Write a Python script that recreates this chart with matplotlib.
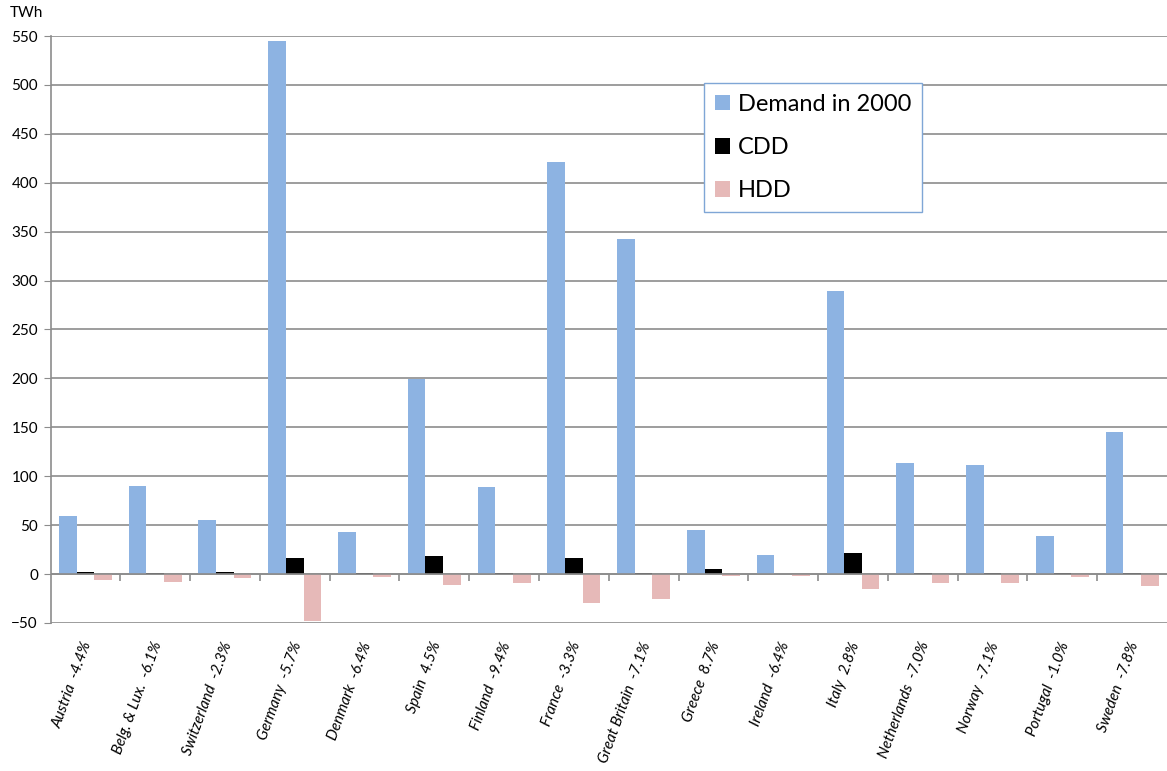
import numpy as np
import matplotlib
matplotlib.use("Agg")
import matplotlib.pyplot as plt
import matplotlib.transforms as mtransforms

plt.rcParams['font.family'] = ['Lato', 'DejaVu Sans']

# demand and degree-day effects per country (TWh)
countries = ["Austria  -4.4%", "Belg. & Lux.  -6.1%", "Switzerland  -2.3%", "Germany  -5.7%",
             "Denmark  -6.4%", "Spain  4.5%", "Finland  -9.4%", "France  -3.3%",
             "Great Britain  -7.1%", "Greece  8.7%", "Ireland  -6.4%", "Italy  2.8%",
             "Netherlands  -7.0%", "Norway  -7.1%", "Portugal  -1.0%", "Sweden  -7.8%"]
demand = [59, 90, 55, 545, 43, 199, 89, 421, 342, 45, 20, 289, 114, 112, 39, 145]
cdd = [2, 1, 2, 16, 1, 18.5, 1, 16, 1, 5, 0, 22, 1, 1, 1, 1]
hdd = [-6, -8, -4, -48, -3, -11, -9, -30, -25, -2, -2, -15, -9, -9, -3, -12]

blue = "#8DB3E2"
pink = "#E6B9B8"
grid = "#8C8C8C"

fig = plt.figure(figsize=(11.67, 7.71), dpi=100)
ax = fig.add_axes([50.5 / 1167, 1 - 623 / 771, 1 - 50.5 / 1167, (623 - 36) / 771])

x = np.arange(len(countries))
w = 0.253
ax.bar(x - w, demand, w, color=blue, label="Demand in 2000", zorder=3)
ax.bar(x, cdd, w, color="black", label="CDD", zorder=3)
ax.bar(x + w, hdd, w, color=pink, label="HDD", zorder=3)

ax.set_xlim(-0.5, len(countries) - 0.5)
ax.set_ylim(-50, 550)
ax.set_yticks(np.arange(-50, 551, 50))
ax.yaxis.grid(True, color=grid, linewidth=1.2, zorder=0)
ax.tick_params(axis="y", length=5, color=grid, labelsize=11, pad=4)
ax.set_xticks([])
for s in ["top", "right", "bottom"]:
    ax.spines[s].set_visible(False)
ax.spines["left"].set_color(grid)
ax.spines["left"].set_linewidth(1.2)

# category axis crossing at zero, with tick marks between groups
ax.axhline(0, color=grid, linewidth=1.2, zorder=4)
sec = ax.secondary_xaxis(50 / 600)
sec.set_xticks(np.arange(0.5, len(countries) - 0.5, 1))
sec.set_xticklabels([])
sec.tick_params(axis="x", length=5, color=grid, width=1.2)
sec.spines["bottom"].set_visible(False)

# country labels under the plot
trans = mtransforms.blended_transform_factory(ax.transData, ax.transAxes)
for i, name in enumerate(countries):
    ax.text(i + 0.04, -0.033, name, transform=trans, rotation=70, rotation_mode="anchor",
            ha="right", va="center", fontsize=11, style="italic")

fig.text(10 / 1167, 1 - 13 / 771, "TWh", fontsize=11, va="center")

leg = ax.legend(loc="upper left", bbox_to_anchor=(704 / 1167, 1 - 83 / 771),
                bbox_transform=fig.transFigure, fontsize=17, frameon=True, fancybox=False,
                framealpha=1, edgecolor="#7FA6D6", borderaxespad=0, borderpad=0.45,
                handlelength=0.64, handleheight=0.64, handletextpad=0.35, labelspacing=0.95)
leg.get_frame().set_linewidth(1.0)

fig.savefig("out.png", dpi=100)
